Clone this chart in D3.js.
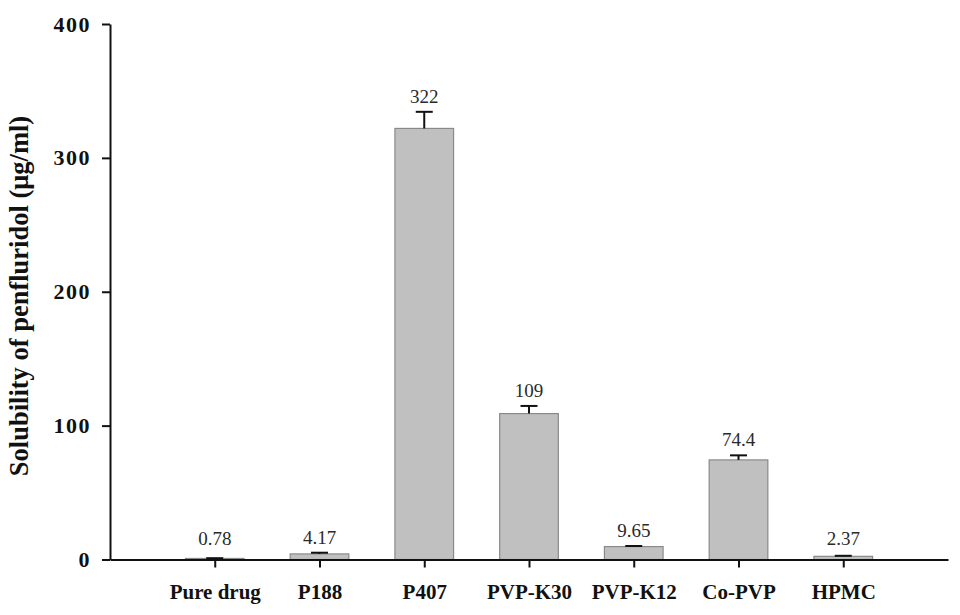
<!DOCTYPE html>
<html>
<head>
<meta charset="utf-8">
<script src="https://cdn.jsdelivr.net/npm/d3@7"></script>
<style>
  html, body { margin: 0; padding: 0; background: #fff; }
  svg { display: block; }
</style>
</head>
<body>
<svg id="chart" width="960" height="615"></svg>
<script>
const categories = ["Pure drug", "P188", "P407", "PVP-K30", "PVP-K12", "Co-PVP", "HPMC"];
const values = [0.78, 4.17, 322, 109, 9.65, 74.4, 2.37];
const errors = [0.2, 0.9, 12.4, 5.7, 0.45, 3.4, 0.4];
const valueLabels = ["0.78", "4.17", "322", "109", "9.65", "74.4", "2.37"];
const yTicks = [0, 100, 200, 300, 400];
const yTitle = "Solubility of penfluridol (μg/ml)";

const svg = d3.select("#chart");
const serif = "'Liberation Serif', 'Times New Roman', Times, serif";

const x = d3.scaleLinear().domain([0, categories.length + 1]).range([110, 948]);
const y = d3.scaleLinear().domain([0, 400]).range([559.5, 24]);
const step = x(1) - x(0);
const barW = step * 0.56;
const capW = 17;

// bars
svg.append("g").selectAll("rect")
  .data(values)
  .join("rect")
  .attr("x", (d, i) => x(i + 1) - barW / 2)
  .attr("y", d => y(d))
  .attr("width", barW)
  .attr("height", d => y(0) - y(d))
  .attr("fill", "#c0c0c0")
  .attr("stroke", "#8a8a8a")
  .attr("stroke-width", 1.2);

// error bars
const eg = svg.append("g").attr("stroke", "#111").attr("stroke-width", 2);
values.forEach((v, i) => {
  const cx = x(i + 1);
  eg.append("line").attr("x1", cx).attr("x2", cx).attr("y1", y(v)).attr("y2", y(v + errors[i]));
  eg.append("line").attr("x1", cx - capW / 2).attr("x2", cx + capW / 2)
    .attr("y1", y(v + errors[i])).attr("y2", y(v + errors[i]));
});

// value labels
svg.append("g").selectAll("text")
  .data(values)
  .join("text")
  .attr("x", (d, i) => x(i + 1))
  .attr("y", (d, i) => y(Math.max(d + errors[i], 4)) - 9)
  .attr("text-anchor", "middle")
  .attr("font-family", serif)
  .attr("font-size", 19)
  .attr("fill", "#2a2a2a")
  .text((d, i) => valueLabels[i]);

// y axis
const yAxis = svg.append("g")
  .attr("transform", "translate(110,0)")
  .call(d3.axisLeft(y).tickValues(yTicks).tickFormat(d3.format("d")).tickSize(8).tickPadding(11).tickSizeOuter(0));
yAxis.select(".domain").attr("stroke", "#111").attr("stroke-width", 2);
yAxis.selectAll(".tick line").attr("stroke", "#111").attr("stroke-width", 2);
yAxis.selectAll(".tick text")
  .attr("font-family", serif).attr("font-size", 22).attr("font-weight", "bold")
  .attr("fill", "#111").attr("letter-spacing", 1.5);

// x axis
const xAxis = svg.append("g")
  .attr("transform", `translate(0,${y(0)})`)
  .call(d3.axisBottom(x).tickValues(d3.range(1, categories.length + 1))
    .tickFormat(d => categories[d - 1]).tickSize(8).tickPadding(17).tickSizeOuter(0));
xAxis.select(".domain").attr("stroke", "#111").attr("stroke-width", 2);
xAxis.selectAll(".tick line").attr("stroke", "#111").attr("stroke-width", 2);
xAxis.selectAll(".tick text")
  .attr("font-family", serif).attr("font-size", 21).attr("font-weight", "bold")
  .attr("fill", "#111");

// y title
svg.append("text")
  .attr("transform", `translate(28,296) rotate(-90)`)
  .attr("text-anchor", "middle")
  .attr("font-family", serif)
  .attr("font-size", 26.5)
  .attr("font-weight", "bold")
  .attr("fill", "#111")
  .text(yTitle);
</script>
</body>
</html>
